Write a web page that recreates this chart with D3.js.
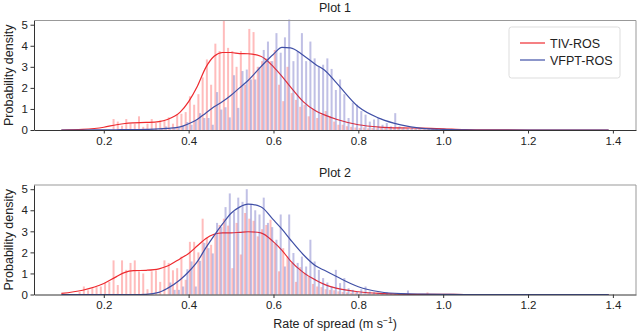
<!DOCTYPE html>
<html lang="en">
<head>
  <meta charset="UTF-8">
  <title>Rate of spread densities</title>
  <script src='https://d3js.org/d3.v7.min.js'></script>
  <style>
    body { margin: 0; background: #fff; }
    text { font-family: 'Liberation Sans', Arial, sans-serif; fill: #222; }
  </style>
</head>
<body>
</body>
<script>
  const width = 637, height = 334;

  // histogram bins are 0.01 wide, heights listed from the start value
  const binWidth = 0.01;
  const tiv1Start = 0.22;
  const tiv1Bars = [0.52, 0.40, 0.20, 0.52, 0.30, 0.30, 0.65, 0.15, 0.30, 0.52,
    0.33, 0.45, 0.45, 0.60, 0.30, 0.73, 0.77, 0.85, 1.60, 1.20,
    1.70, 2.50, 3.35, 2.15, 4.10, 3.75, 5.20, 3.90, 3.75, 3.00,
    3.75, 2.15, 4.80, 4.65, 3.00, 3.27, 3.40, 3.27, 3.80, 2.15,
    1.37, 3.00, 1.75, 1.43, 1.10, 1.20, 0.65, 1.00, 0.57, 0.73,
    0.90, 0.65, 0.40, 0.25, 0.25, 0.18, 0.15, 0.12, 0.10, 0.12,
    0.08, 0.10, 0.08, 0.10, 0.12, 0.15, 0.10, 0.12, 0.08, 0.10,
    0.05, 0.06, 0.08, 0.06, 0.08, 0.05, 0.06, 0.08, 0.06];
  const vfpt1Start = 0.33;
  const vfpt1Bars = [0.10, 0.17, 0.05, 0.10, 0.12, 0.20, 0.38, 0.25, 0.45, 0.80,
    0.57, 0.57, 0.25, 1.80, 0.97, 1.08, 0.60, 2.60, 1.05, 2.80,
    2.87, 2.40, 2.40, 3.00, 3.80, 4.20, 3.27, 4.60, 3.67, 4.40,
    5.25, 3.27, 3.75, 4.60, 3.27, 4.20, 3.40, 3.00, 3.10, 3.40,
    2.90, 1.90, 2.40, 1.70, 0.57, 1.30, 1.20, 0.90, 0.73, 0.40,
    0.50, 0.60, 0.25, 0.33, 0.17, 0.80, 0.17, 0.12, 0.08, 0.10,
    0.06, 0.05, 0.04, 0.06, 0.03, 0.05, 0.04];
  const tiv2Start = 0.14;
  const tiv2Bars = [0.12, 0.38, 0.20, 0.30, 0.35, 0.38, 0.55, 0.60, 1.62, 0.45,
    1.62, 1.17, 1.50, 1.62, 1.10, 1.00, 0.25, 1.10, 1.15, 0.60,
    1.62, 1.50, 1.15, 1.25, 1.80, 0.70, 2.50, 2.50, 2.00, 3.60,
    2.70, 2.36, 2.84, 3.30, 3.60, 3.27, 1.25, 3.40, 1.90, 3.87,
    3.60, 3.50, 2.76, 3.10, 3.30, 3.55, 2.40, 1.10, 2.20, 1.80,
    1.50, 0.60, 1.30, 1.00, 0.85, 0.50, 0.38, 0.35, 0.25, 0.22,
    0.20, 0.15, 0.12, 0.10, 0.08, 0.10, 0.06, 0.05, 0.06, 0.04,
    0.05, 0.03, 0.00, 0.00, 0.00, 0.00, 0.00, 0.00, 0.00, 0.00,
    0.00, 0.00, 0.10];
  const vfpt2Start = 0.35;
  const vfpt2Bars = [0.57, 0.22, 0.22, 0.38, 1.20, 1.57, 0.38, 1.60, 2.45, 2.20,
    1.95, 3.40, 3.20, 4.15, 4.80, 3.95, 4.60, 4.40, 5.00, 4.30,
    4.00, 3.80, 4.60, 3.40, 3.20, 2.60, 3.80, 1.33, 3.80, 1.97,
    1.50, 1.80, 1.33, 2.60, 1.57, 1.17, 0.78, 0.57, 0.38, 1.17,
    0.54, 0.78, 0.30, 0.22, 0.14, 0.25, 0.38, 0.14, 0.10, 0.08,
    0.06, 0.10, 0.05, 0.04, 0.03, 0.05, 0.19];

  // kernel density curves read at these x positions
  const kdeX = [0.10, 0.15, 0.20, 0.23, 0.25, 0.27, 0.30, 0.33, 0.35, 0.38,
    0.40, 0.42, 0.44, 0.46, 0.48, 0.50, 0.52, 0.54, 0.57, 0.60,
    0.62, 0.64, 0.67, 0.70, 0.72, 0.75, 0.80, 0.85, 0.90, 0.95,
    1.00, 1.05, 1.10, 1.20, 1.30, 1.39];
  const tiv1Kde = [0.00, 0.03, 0.13, 0.25, 0.31, 0.34, 0.36, 0.40, 0.50, 0.85,
    1.35, 2.05, 2.95, 3.50, 3.68, 3.68, 3.63, 3.62, 3.50, 3.00,
    2.55, 2.05, 1.35, 0.90, 0.72, 0.50, 0.25, 0.14, 0.10, 0.09,
    0.06, 0.02, 0.01, 0.00, 0.00, 0.00];
  const vfpt1Kde = [0.00, 0.00, 0.01, 0.01, 0.02, 0.02, 0.03, 0.05, 0.08, 0.15,
    0.30, 0.50, 0.80, 1.10, 1.35, 1.65, 2.00, 2.35, 3.00, 3.60,
    3.92, 3.90, 3.55, 3.10, 2.85, 2.20, 1.10, 0.55, 0.24, 0.08,
    0.03, 0.01, 0.00, 0.00, 0.00, 0.00];
  const tiv2Kde = [0.05, 0.20, 0.52, 0.85, 1.05, 1.13, 1.15, 1.22, 1.35, 1.70,
    1.95, 2.30, 2.65, 2.86, 2.93, 2.93, 2.95, 2.98, 2.93, 2.50,
    2.10, 1.60, 1.05, 0.68, 0.48, 0.29, 0.13, 0.05, 0.02, 0.01,
    0.01, 0.00, 0.00, 0.00, 0.00, 0.00];
  const vfpt2Kde = [0.00, 0.00, 0.00, 0.00, 0.00, 0.00, 0.01, 0.10, 0.29, 0.70,
    1.08, 1.55, 2.20, 2.80, 3.35, 3.86, 4.15, 4.29, 4.17, 3.54,
    3.10, 2.60, 1.90, 1.35, 1.15, 0.84, 0.37, 0.13, 0.04, 0.02,
    0.01, 0.00, 0.00, 0.00, 0.00, 0.00];

  const xTicks = [0.2, 0.4, 0.6, 0.8, 1.0, 1.2, 1.4];
  const yTicks = [0, 1, 2, 3, 4, 5];
  const seriesNames = ['TIV-ROS', 'VFPT-ROS'];
  const lineColors = ['#ee2a2f', '#3f4fa6'];
  const barColors = ['#ff4040', '#4b4bb4'];

  const panels = [
    {title: 'Plot 1', top: 20.5, bottom: 130, series: [
      {start: tiv1Start, bars: tiv1Bars, kde: tiv1Kde, shift: 0.003},
      {start: vfpt1Start, bars: vfpt1Bars, kde: vfpt1Kde, shift: 0.007}]},
    {title: 'Plot 2', top: 185, bottom: 294.5, series: [
      {start: tiv2Start, bars: tiv2Bars, kde: tiv2Kde, shift: 0.003},
      {start: vfpt2Start, bars: vfpt2Bars, kde: vfpt2Kde, shift: 0.007}]}
  ];

  const left = 34, right = 636;
  const x = d3.scaleLinear().domain([0.0355, 1.4545]).range([left, right]);

  const svg = d3.select('body').append('svg')
    .attr('width', width).attr('height', height);

  panels.forEach((p, pi) => {
    const y = d3.scaleLinear().domain([0, 5.2]).range([p.bottom, p.top]);
    const g = svg.append('g');

    p.series.forEach((s, si) => {
      g.append('g').selectAll('rect')
        .data(s.bars)
        .join('rect')
        .attr('x', (d, i) => x(s.start + i * binWidth + s.shift) - 1)
        .attr('width', 2)
        .attr('y', d => y(d))
        .attr('height', d => y(0) - y(d))
        .attr('fill', barColors[si])
        .attr('fill-opacity', 0.35);

      const line = d3.line()
        .x((d, i) => x(kdeX[i]))
        .y(d => y(d))
        .curve(d3.curveMonotoneX);
      g.append('path')
        .attr('d', line(s.kde))
        .attr('fill', 'none')
        .attr('stroke', lineColors[si])
        .attr('stroke-width', 1.2);
    });

    // frame
    g.append('path')
      .attr('d', `M${left},${p.top}H${right}V${p.bottom}`)
      .attr('fill', 'none').attr('stroke', '#999').attr('stroke-width', 1);

    const xAxis = g.append('g')
      .attr('transform', `translate(0,${p.bottom})`)
      .call(d3.axisBottom(x).tickValues(xTicks).tickFormat(d3.format('.1f'))
        .tickSizeInner(3.5).tickSizeOuter(0).tickPadding(3));
    const yAxis = g.append('g')
      .attr('transform', `translate(${left},0)`)
      .call(d3.axisLeft(y).tickValues(yTicks).tickFormat(d3.format('d'))
        .tickSizeInner(3.5).tickSizeOuter(0).tickPadding(2.5));
    [xAxis, yAxis].forEach(a => {
      a.select('.domain').attr('stroke', '#333').attr('stroke-width', 1);
      a.selectAll('line').attr('stroke', '#333');
      a.selectAll('text').attr('font-size', 11.5).attr('fill', '#222');
    });

    svg.append('text')
      .attr('x', (left + right) / 2).attr('y', p.top - 8.5)
      .attr('text-anchor', 'middle').attr('font-size', 12.5)
      .text(p.title);

    svg.append('text')
      .attr('transform', `translate(12.5,${(p.top + p.bottom) / 2}) rotate(-90)`)
      .attr('text-anchor', 'middle').attr('font-size', 12.5)
      .text('Probability density');
  });

  // x label with superscript
  const xl = svg.append('text')
    .attr('x', (left + right) / 2).attr('y', 328)
    .attr('text-anchor', 'middle').attr('font-size', 12.5);
  xl.append('tspan').text('Rate of spread (m s');
  xl.append('tspan').attr('dy', -5).attr('font-size', 8.5).text('\u22121');
  xl.append('tspan').attr('dy', 5).text(')');

  // legend
  const lg = svg.append('g').attr('transform', 'translate(509,27)');
  lg.append('rect')
    .attr('width', 111).attr('height', 51).attr('rx', 2.5)
    .attr('fill', '#fff').attr('stroke', '#ddd');
  seriesNames.forEach((name, i) => {
    lg.append('line')
      .attr('x1', 11).attr('x2', 36)
      .attr('y1', 16 + i * 17).attr('y2', 16 + i * 17)
      .attr('stroke', lineColors[i]).attr('stroke-width', 1.2);
    lg.append('text')
      .attr('x', 41).attr('y', 20.5 + i * 17)
      .attr('font-size', 12.5)
      .text(name);
  });

  console.log('ready..');
</script>
</html>
